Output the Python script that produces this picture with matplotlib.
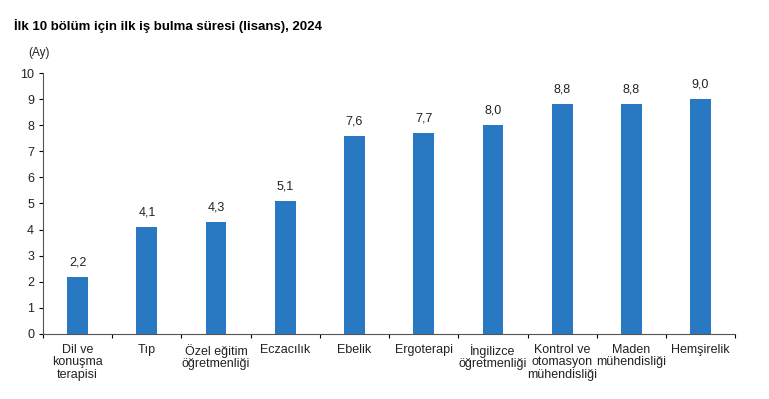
import numpy as np
import matplotlib.pyplot as plt

plt.rcParams['font.family'] = ['Liberation Sans', 'DejaVu Sans']

## data
bolumler = ['Dil ve\nkonuşma\nterapisi', 'Tıp', 'Özel eğitim\nöğretmenliği', 'Eczacılık',
            'Ebelik', 'Ergoterapi', 'İngilizce\nöğretmenliği', 'Kontrol ve\notomasyon\nmühendisliği',
            'Maden\nmühendisliği', 'Hemşirelik']
sure = [2.2, 4.1, 4.3, 5.1, 7.6, 7.7, 8.0, 8.8, 8.8, 9.0]
y_ticks = [0, 1, 2, 3, 4, 5, 6, 7, 8, 9, 10]

fig = plt.figure(figsize=(7.69, 3.99), dpi=100)
ax = fig.add_axes([0.056, 0.163, 0.900, 0.654])

x = np.arange(len(bolumler))
bars = ax.bar(x, sure, width=0.3, color='#2878c2')

for xi, v in zip(x, sure):
    ax.annotate(f'{v:.1f}'.replace('.', ','), (xi, v), xytext=(0, 6), textcoords='offset points',
                ha='center', va='bottom', fontsize=9, color='#222222')

ax.set_xlim(-0.5, len(bolumler) - 0.5)
ax.set_ylim(0, 10)
ax.set_yticks(y_ticks)
ax.tick_params(axis='y', labelsize=9, length=3, direction='out', width=0.8, labelcolor='#222222')

## labels at bar centres, tick marks at category boundaries
ax.set_xticks(x)
ax.set_xticklabels(bolumler, fontsize=9, linespacing=1.05, va='top', color='#222222')
ax.tick_params(axis='x', which='major', length=0, pad=7)
ax.set_xticks(np.arange(-0.5, len(bolumler)), minor=True)
ax.tick_params(axis='x', which='minor', length=3, direction='out', width=0.8)

for s in ['top', 'right']:
    ax.spines[s].set_visible(False)
ax.spines['left'].set_color('#555555')
ax.spines['bottom'].set_color('#555555')

fig.text(0.018, 0.935, 'İlk 10 bölüm için ilk iş bulma süresi (lisans), 2024',
         fontsize=9.5, fontweight='bold', ha='left', va='center')
fig.text(0.037, 0.868, '(Ay)', fontsize=8.5, ha='left', va='center', color='#222222')

fig.savefig('out.png', dpi=100)
